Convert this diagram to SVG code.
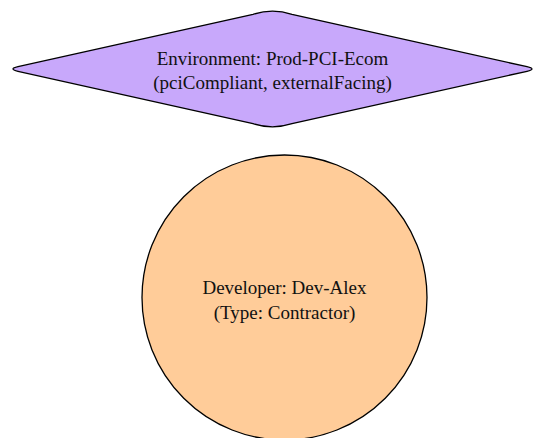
<svg xmlns="http://www.w3.org/2000/svg" width="544" height="438" viewBox="0 0 544 438">
  <style>
    .shape { stroke: #000; stroke-width: 1.3; }
    .label { font-family: "Liberation Serif", "Times New Roman", serif; font-size: 19px; fill: #111; text-anchor: middle; }
  </style>
  <rect width="544" height="438" fill="#fff"/>
  <g id="environment">
    <path class="shape" fill="#c8a8fb" d="M18,71.3 Q8,69 18,66.7 L253,14.3 Q272.5,8 292,14.3 L527,66.7 Q537,69 527,71.3 L292,123.7 Q272.5,130 253,123.7 Z"/>
    <text class="label" x="272.5" y="65">Environment: Prod-PCI-Ecom</text>
    <text class="label" x="272.5" y="89">(pciCompliant, externalFacing)</text>
  </g>
  <g id="developer">
    <circle class="shape" fill="#ffcc99" cx="284.5" cy="297.5" r="142.5"/>
    <text class="label" x="284.5" y="294">Developer: Dev-Alex</text>
    <text class="label" x="284.5" y="319">(Type: Contractor)</text>
  </g>
  <g id="connectors"></g>
</svg>
